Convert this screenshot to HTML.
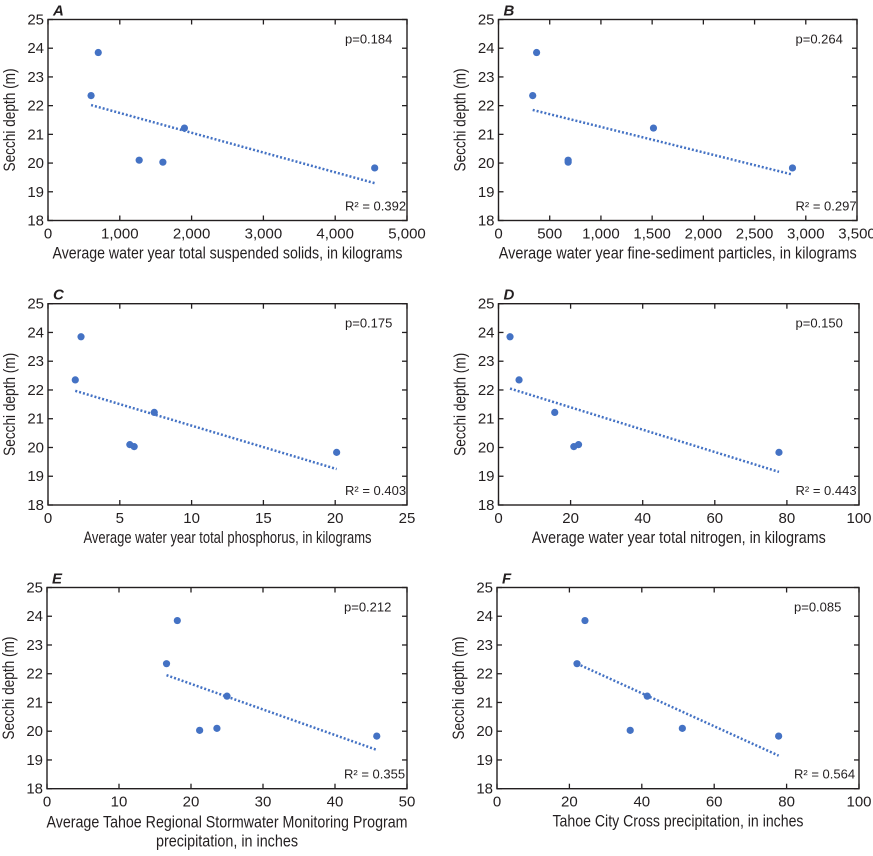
<!DOCTYPE html>
<html><head><meta charset="utf-8"><style>
html,body{margin:0;padding:0;background:#fff}
svg text{font-family:"Liberation Sans Narrow","Liberation Sans",sans-serif;fill:#231f20}
</style></head><body>
<svg id="s" width="873" height="851" xmlns="http://www.w3.org/2000/svg"></svg>
<script>
const P=[
{L:'A',x0:48,x1:407,y0:19.5,y1:220.5,xmax:5000,step:1000,fmt:v=>v.toLocaleString('en-US'),
 pts:[[600,22.35],[700,23.85],[1270,20.1],[1600,20.03],[1900,21.22],[4550,19.83]],tr:[[600,22.02],[4550,19.3]],p:'0.184',r:'0.392',
 t:['Average water year total suspended solids, in kilograms'],tl:[350]},
{L:'B',x0:498.5,x1:857,y0:19.5,y1:220.5,xmax:3500,step:500,fmt:v=>v.toLocaleString('en-US'),
 pts:[[334,22.35],[372,23.85],[680,20.1],[680,20.03],[1513,21.22],[2870,19.83]],tr:[[334,21.85],[2870,19.6]],p:'0.264',r:'0.297',
 t:['Average water year fine-sediment particles, in kilograms'],tl:[358]},
{L:'C',x0:48,x1:407,y0:303.7,y1:505,xmax:25,step:5,fmt:v=>''+v,
 pts:[[1.9,22.35],[2.3,23.85],[5.7,20.1],[6.0,20.03],[7.4,21.22],[20.1,19.83]],tr:[[1.9,21.97],[20.1,19.25]],p:'0.175',r:'0.403',
 t:['Average water year total phosphorus, in kilograms'],tl:[288]},
{L:'D',x0:498.5,x1:859,y0:303.7,y1:505,xmax:100,step:20,fmt:v=>''+v,
 pts:[[3.2,23.85],[5.7,22.35],[15.6,21.22],[20.9,20.03],[22.2,20.1],[77.8,19.83]],tr:[[3.2,22.05],[77.8,19.15]],p:'0.150',r:'0.443',
 t:['Average water year total nitrogen, in kilograms'],tl:[294]},
{L:'E',x0:47,x1:407,y0:587.5,y1:788.7,xmax:50,step:10,fmt:v=>''+v,
 pts:[[16.6,22.35],[18.1,23.85],[21.2,20.03],[23.6,20.1],[25,21.22],[45.8,19.83]],tr:[[16.6,21.95],[45.8,19.35]],p:'0.212',r:'0.355',
 t:['Average Tahoe Regional Stormwater Monitoring Program','precipitation, in inches'],tl:[361,142]},
{L:'F',x0:497,x1:859,y0:587.5,y1:788.7,xmax:100,step:20,fmt:v=>''+v,
 pts:[[22.1,22.35],[24.3,23.85],[36.8,20.03],[41.5,21.22],[51.2,20.1],[77.8,19.83]],tr:[[22.1,22.35],[77.8,19.15]],p:'0.085',r:'0.564',
 t:['Tahoe City Cross precipitation, in inches'],tl:[251]}
];
let h='';
for(const c of P){
 const X=v=>c.x0+(c.x1-c.x0)*v/c.xmax, Y=v=>c.y1-(c.y1-c.y0)*(v-18)/7;
 h+=`<rect x="${c.x0}" y="${c.y0}" width="${c.x1-c.x0}" height="${c.y1-c.y0}" fill="none" stroke="#231f20" stroke-width="1.4"/>`;
 for(let v=18;v<=25;v++){const y=Y(v);
  h+=`<line x1="${c.x0}" x2="${c.x0+5}" y1="${y}" y2="${y}" stroke="#231f20" stroke-width="1.3"/><line x1="${c.x1-5}" x2="${c.x1}" y1="${y}" y2="${y}" stroke="#231f20" stroke-width="1.3"/>`;
  h+=`<text x="${c.x0-4}" y="${y+5}" font-size="15" text-anchor="end">${v}</text>`;}
 for(let v=0;v<=c.xmax;v+=c.step){const x=X(v);
  h+=`<line x1="${x}" x2="${x}" y1="${c.y1-5}" y2="${c.y1}" stroke="#231f20" stroke-width="1.3"/><line x1="${x}" x2="${x}" y1="${c.y0}" y2="${c.y0+5}" stroke="#231f20" stroke-width="1.3"/>`;
  h+=`<text x="${x}" y="${c.y1+18}" font-size="15" text-anchor="middle">${c.fmt(v)}</text>`;}
 h+=`<line x1="${X(c.tr[0][0])}" y1="${Y(c.tr[0][1])}" x2="${X(c.tr[1][0])}" y2="${Y(c.tr[1][1])}" stroke="#4472c4" stroke-width="2.5" stroke-dasharray="2 2"/>`;
 for(const p of c.pts)h+=`<circle cx="${X(p[0])}" cy="${Y(p[1])}" r="3.6" fill="#4472c4"/>`;
 h+=`<text x="${c.x0+5}" y="${c.y0-4}" font-size="15" font-weight="bold" font-style="italic">${c.L}</text>`;
 h+=`<text x="${c.x0+297}" y="${c.y0+24}" font-size="13">p=${c.p}</text>`;
 h+=`<text x="${c.x0+297}" y="${c.y1-10}" font-size="13">R² = ${c.r}</text>`;
 const mx=(c.x0+c.x1)/2;
 c.t.forEach((s,i)=>{h+=`<text x="${mx}" y="${c.y1+(c.t.length>1?39:38)+i*19}" font-size="17" text-anchor="middle" textLength="${c.tl[i]}" lengthAdjust="spacingAndGlyphs">${s}</text>`;});
 const my=(c.y0+c.y1)/2, tx=c.x0-33;
 h+=`<text transform="translate(${tx},${my}) rotate(-90)" font-size="17" text-anchor="middle" textLength="103" lengthAdjust="spacingAndGlyphs">Secchi depth (m)</text>`;
}
document.getElementById('s').innerHTML=h;
</script>
</body></html>
